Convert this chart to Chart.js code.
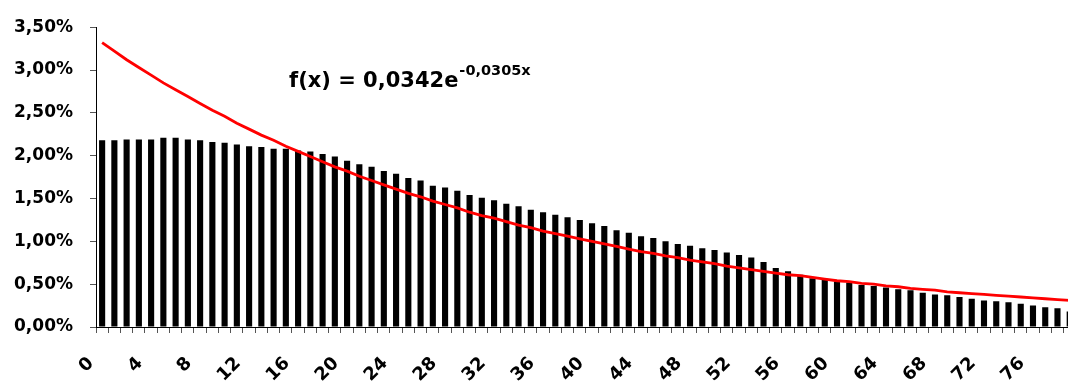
<!DOCTYPE html>
<html>
<head>
<meta charset="utf-8">
<script src="https://cdn.jsdelivr.net/npm/chart.js@4"></script>
<style>
  html, body { margin: 0; padding: 0; background: #fff; overflow: hidden; }
  #wrap { width: 1105px; height: 382px; }
</style>
</head>
<body>
<div id="wrap"><canvas id="chart" width="1105" height="382"></canvas></div>
<script>
// categories 0..79
const categories = [
  0, 1, 2, 3, 4, 5, 6, 7, 8, 9, 10, 11, 12, 13, 14, 15, 16, 17, 18, 19,
  20, 21, 22, 23, 24, 25, 26, 27, 28, 29, 30, 31, 32, 33, 34, 35, 36, 37, 38, 39,
  40, 41, 42, 43, 44, 45, 46, 47, 48, 49, 50, 51, 52, 53, 54, 55, 56, 57, 58, 59,
  60, 61, 62, 63, 64, 65, 66, 67, 68, 69, 70, 71, 72, 73, 74, 75, 76, 77, 78, 79
];

// bar values, in %
const barValues = [
  2.18, 2.18, 2.19, 2.19, 2.19, 2.21, 2.21, 2.19, 2.18, 2.16,
  2.15, 2.13, 2.11, 2.10, 2.08, 2.08, 2.06, 2.05, 2.02, 1.99,
  1.94, 1.90, 1.87, 1.82, 1.79, 1.74, 1.71, 1.65, 1.63, 1.59,
  1.54, 1.51, 1.48, 1.44, 1.41, 1.37, 1.34, 1.31, 1.28, 1.25,
  1.21, 1.18, 1.13, 1.10, 1.06, 1.04, 1.00, 0.97, 0.95, 0.92,
  0.90, 0.87, 0.84, 0.81, 0.76, 0.69, 0.65, 0.61, 0.57, 0.56,
  0.53, 0.52, 0.49, 0.48, 0.46, 0.44, 0.43, 0.40, 0.38, 0.37,
  0.35, 0.33, 0.31, 0.30, 0.29, 0.27, 0.25, 0.23, 0.22, 0.18
];

// red fitted line, in %
const fitValues = [
  3.32, 3.22, 3.12, 3.03, 2.94, 2.85, 2.77, 2.69, 2.61, 2.53,
  2.46, 2.38, 2.31, 2.24, 2.18, 2.11, 2.05, 1.99, 1.93, 1.87,
  1.82, 1.76, 1.71, 1.66, 1.61, 1.56, 1.52, 1.47, 1.43, 1.39,
  1.34, 1.30, 1.27, 1.23, 1.19, 1.16, 1.12, 1.09, 1.06, 1.03,
  1.00, 0.97, 0.94, 0.91, 0.88, 0.86, 0.83, 0.81, 0.78, 0.76,
  0.74, 0.71, 0.69, 0.67, 0.65, 0.63, 0.61, 0.60, 0.58, 0.56,
  0.54, 0.53, 0.51, 0.50, 0.48, 0.47, 0.45, 0.44, 0.43, 0.41,
  0.40, 0.39, 0.38, 0.37, 0.36, 0.35, 0.34, 0.33, 0.32, 0.31
];

const yTicks = [0, 0.5, 1, 1.5, 2, 2.5, 3, 3.5];
const labelEvery = 4;
const formulaMain = 'f(x) = 0,0342e';
const formulaExp = '-0,0305x';

const FONT = '"DejaVu Sans", Arial, sans-serif';

// draws the fit formula on top of the chart
const formulaPlugin = {
  id: 'formula',
  afterDraw(chart) {
    const ctx = chart.ctx;
    ctx.save();
    ctx.fillStyle = '#000';
    ctx.textBaseline = 'alphabetic';
    ctx.textAlign = 'left';
    ctx.font = 'bold 21px ' + FONT;
    ctx.fillText(formulaMain, 289, 87);
    const w = ctx.measureText(formulaMain).width;
    ctx.font = 'bold 14.5px ' + FONT;
    ctx.fillText(formulaExp, 289 + w + 1, 75);
    ctx.restore();
  }
};

new Chart(document.getElementById('chart').getContext('2d'), {
  data: {
    labels: categories,
    datasets: [
      {
        type: 'line',
        data: fitValues,
        borderColor: '#ff0000',
        borderWidth: 2.8,
        pointRadius: 0,
        tension: 0,
        fill: false
      },
      {
        type: 'bar',
        data: barValues,
        backgroundColor: '#000',
        barPercentage: 0.5,
        categoryPercentage: 1.0
      }
    ]
  },
  options: {
    responsive: false,
    animation: false,
    layout: { padding: { top: 24, right: 0, left: 0, bottom: 0 } },
    plugins: {
      legend: { display: false },
      tooltip: { enabled: false }
    },
    scales: {
      x: {
        type: 'category',
        offset: true,
        afterFit: (scale) => { scale.height = 55; },
        grid: {
          offset: true,
          drawOnChartArea: false,
          tickLength: 6,
          tickColor: '#555'
        },
        border: { color: '#000', width: 1 },
        ticks: {
          autoSkip: false,
          maxRotation: 45,
          minRotation: 45,
          padding: 20,
          labelOffset: -11,
          color: '#000',
          font: { family: FONT, size: 18, weight: 'bold' },
          callback: (v, i) => (i % labelEvery === 0 ? String(categories[i]) : '')
        }
      },
      y: {
        min: yTicks[0],
        max: yTicks[yTicks.length - 1],
        afterFit: (scale) => { scale.width = 96; },
        afterBuildTicks: (scale) => { scale.ticks = yTicks.map(v => ({ value: v })); },
        grid: {
          drawOnChartArea: false,
          tickLength: 6,
          tickColor: '#555'
        },
        border: { color: '#000', width: 1 },
        ticks: {
          padding: 17,
          color: '#000',
          font: { family: FONT, size: 17, weight: 'bold' },
          callback: (v) => v.toFixed(2).replace('.', ',') + '%'
        }
      }
    }
  },
  plugins: [formulaPlugin]
});
</script>
</body>
</html>
